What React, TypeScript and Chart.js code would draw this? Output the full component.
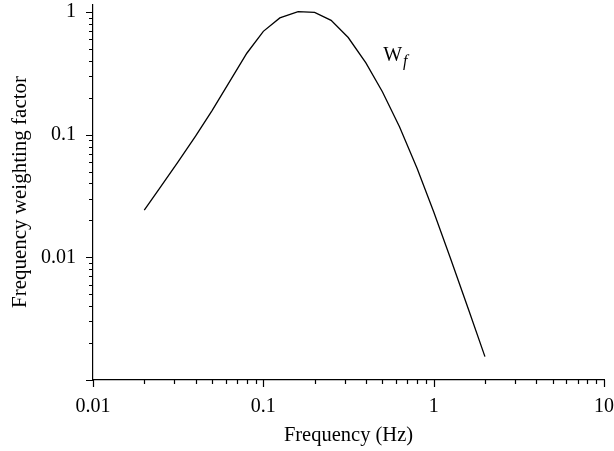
import React, { useEffect, useRef } from "react";
import { Chart, registerables } from "chart.js";

Chart.register(...registerables);

// 1/3-octave band centre frequencies (Hz)
const frequencies = [0.02, 0.025, 0.0315, 0.04, 0.05, 0.063, 0.08, 0.1, 0.125, 0.16, 0.2, 0.25, 0.315, 0.4, 0.5, 0.63, 0.8, 1, 1.25, 1.6, 2];
// Frequency weighting factor Wf
const weights = [0.0242, 0.0377, 0.0597, 0.0971, 0.157, 0.267, 0.461, 0.695, 0.895, 1.006, 0.992, 0.854, 0.619, 0.384, 0.224, 0.116, 0.053, 0.0235, 0.00998, 0.00377, 0.00155];

const xTickLabels = ["0.01", "0.1", "1", "10"];
const yTickLabels = ["0.01", "0.1", "1"];
const xTitle = "Frequency (Hz)";
const yTitle = "Frequency weighting factor";
const seriesName = "W";
const seriesSub = "f";
const seriesLabelAt = { x: 0.505, y: 0.4 };

const FONT = "'Liberation Serif', 'Times New Roman', serif";

function fmt(v: number): string {
  return String(Number(v.toPrecision(6)));
}

const axesPlugin = {
  id: "customAxes",
  afterDraw(chart: any) {
    const { ctx, chartArea } = chart;
    const xs = chart.scales.x;
    const ys = chart.scales.y;
    ctx.save();
    ctx.strokeStyle = "#000";
    ctx.lineWidth = 1.2;
    ctx.beginPath();
    for (let k = -2; k <= 1; k++) {
      for (let m = 1; m <= 9; m++) {
        const v = m * Math.pow(10, k);
        if (v < xs.min * 0.999 || v > xs.max * 1.001) continue;
        const px = Math.round(xs.getPixelForValue(v)) + 0.5;
        const len = m === 1 ? 7 : 4;
        ctx.moveTo(px, chartArea.bottom);
        ctx.lineTo(px, chartArea.bottom + len);
      }
    }
    for (let k = -3; k <= 0; k++) {
      for (let m = 1; m <= 9; m++) {
        const v = m * Math.pow(10, k);
        if (v < ys.min * 0.999 || v > ys.max * 1.001) continue;
        const py = Math.round(ys.getPixelForValue(v)) + 0.5;
        const len = m === 1 ? 7 : 4;
        ctx.moveTo(chartArea.left, py);
        ctx.lineTo(chartArea.left - len, py);
      }
    }
    ctx.stroke();

    ctx.fillStyle = "#000";
    ctx.textAlign = "center";
    ctx.textBaseline = "middle";
    ctx.font = `20.5px ${FONT}`;
    ctx.fillText(xTitle, (chartArea.left + chartArea.right) / 2, 436);
    ctx.save();
    ctx.font = `21px ${FONT}`;
    ctx.translate(20, 192);
    ctx.rotate(-Math.PI / 2);
    ctx.fillText(yTitle, 0, 0);
    ctx.restore();

    const lx = xs.getPixelForValue(seriesLabelAt.x);
    const ly = ys.getPixelForValue(seriesLabelAt.y);
    ctx.textAlign = "left";
    ctx.textBaseline = "alphabetic";
    ctx.font = `20px ${FONT}`;
    ctx.fillText(seriesName, lx, ly);
    const w = ctx.measureText(seriesName).width;
    ctx.font = `italic 16px ${FONT}`;
    ctx.fillText(seriesSub, lx + w + 1, ly + 5);
    ctx.restore();
  },
};

export default function App() {
  const ref = useRef<HTMLCanvasElement>(null);
  useEffect(() => {
    document.body.style.margin = "0";
    const canvas = ref.current!;
    const chart = new Chart(canvas, {
      type: "line",
      data: {
        datasets: [
          {
            label: "Wf",
            data: frequencies.map((f, i) => ({ x: f, y: weights[i] })),
            borderColor: "#000",
            borderWidth: 1.3,
            pointRadius: 0,
            tension: 0,
            fill: false,
          },
        ],
      },
      plugins: [axesPlugin],
      options: {
        animation: false,
        responsive: false,
        maintainAspectRatio: false,
        devicePixelRatio: 1,
        layout: { padding: { left: 0, right: 10, top: 5, bottom: 0 } },
        plugins: { legend: { display: false }, tooltip: { enabled: false } },
        scales: {
          x: {
            type: "logarithmic",
            min: 0.01,
            max: 10,
            grid: { display: false },
            border: { display: true, color: "#000", width: 1.2 },
            ticks: {
              autoSkip: false,
              maxRotation: 0,
              padding: 7,
              color: "#000",
              font: { family: FONT, size: 20 },
              callback: (v: any) => {
                const s = fmt(Number(v));
                return xTickLabels.includes(s) ? s : "";
              },
            },
            afterFit: (s: any) => {
              s.height = 71;
              s.paddingLeft = 0;
              s.paddingRight = 0;
            },
          },
          y: {
            type: "logarithmic",
            min: 0.001,
            max: 1.14,
            grid: { display: false },
            border: { display: true, color: "#000", width: 1.2 },
            ticks: {
              autoSkip: false,
              padding: 9,
              color: "#000",
              font: { family: FONT, size: 20 },
              callback: (v: any) => {
                const s = fmt(Number(v));
                return yTickLabels.includes(s) ? s : "";
              },
            },
            afterFit: (s: any) => {
              s.width = 93;
              s.paddingTop = 0;
              s.paddingBottom = 0;
            },
          },
        },
      },
    });
    return () => chart.destroy();
  }, []);
  return (
    <div style={{ width: 614, height: 451, background: "#fff" }}>
      <canvas ref={ref} width={614} height={451} style={{ display: "block" }} />
    </div>
  );
}
